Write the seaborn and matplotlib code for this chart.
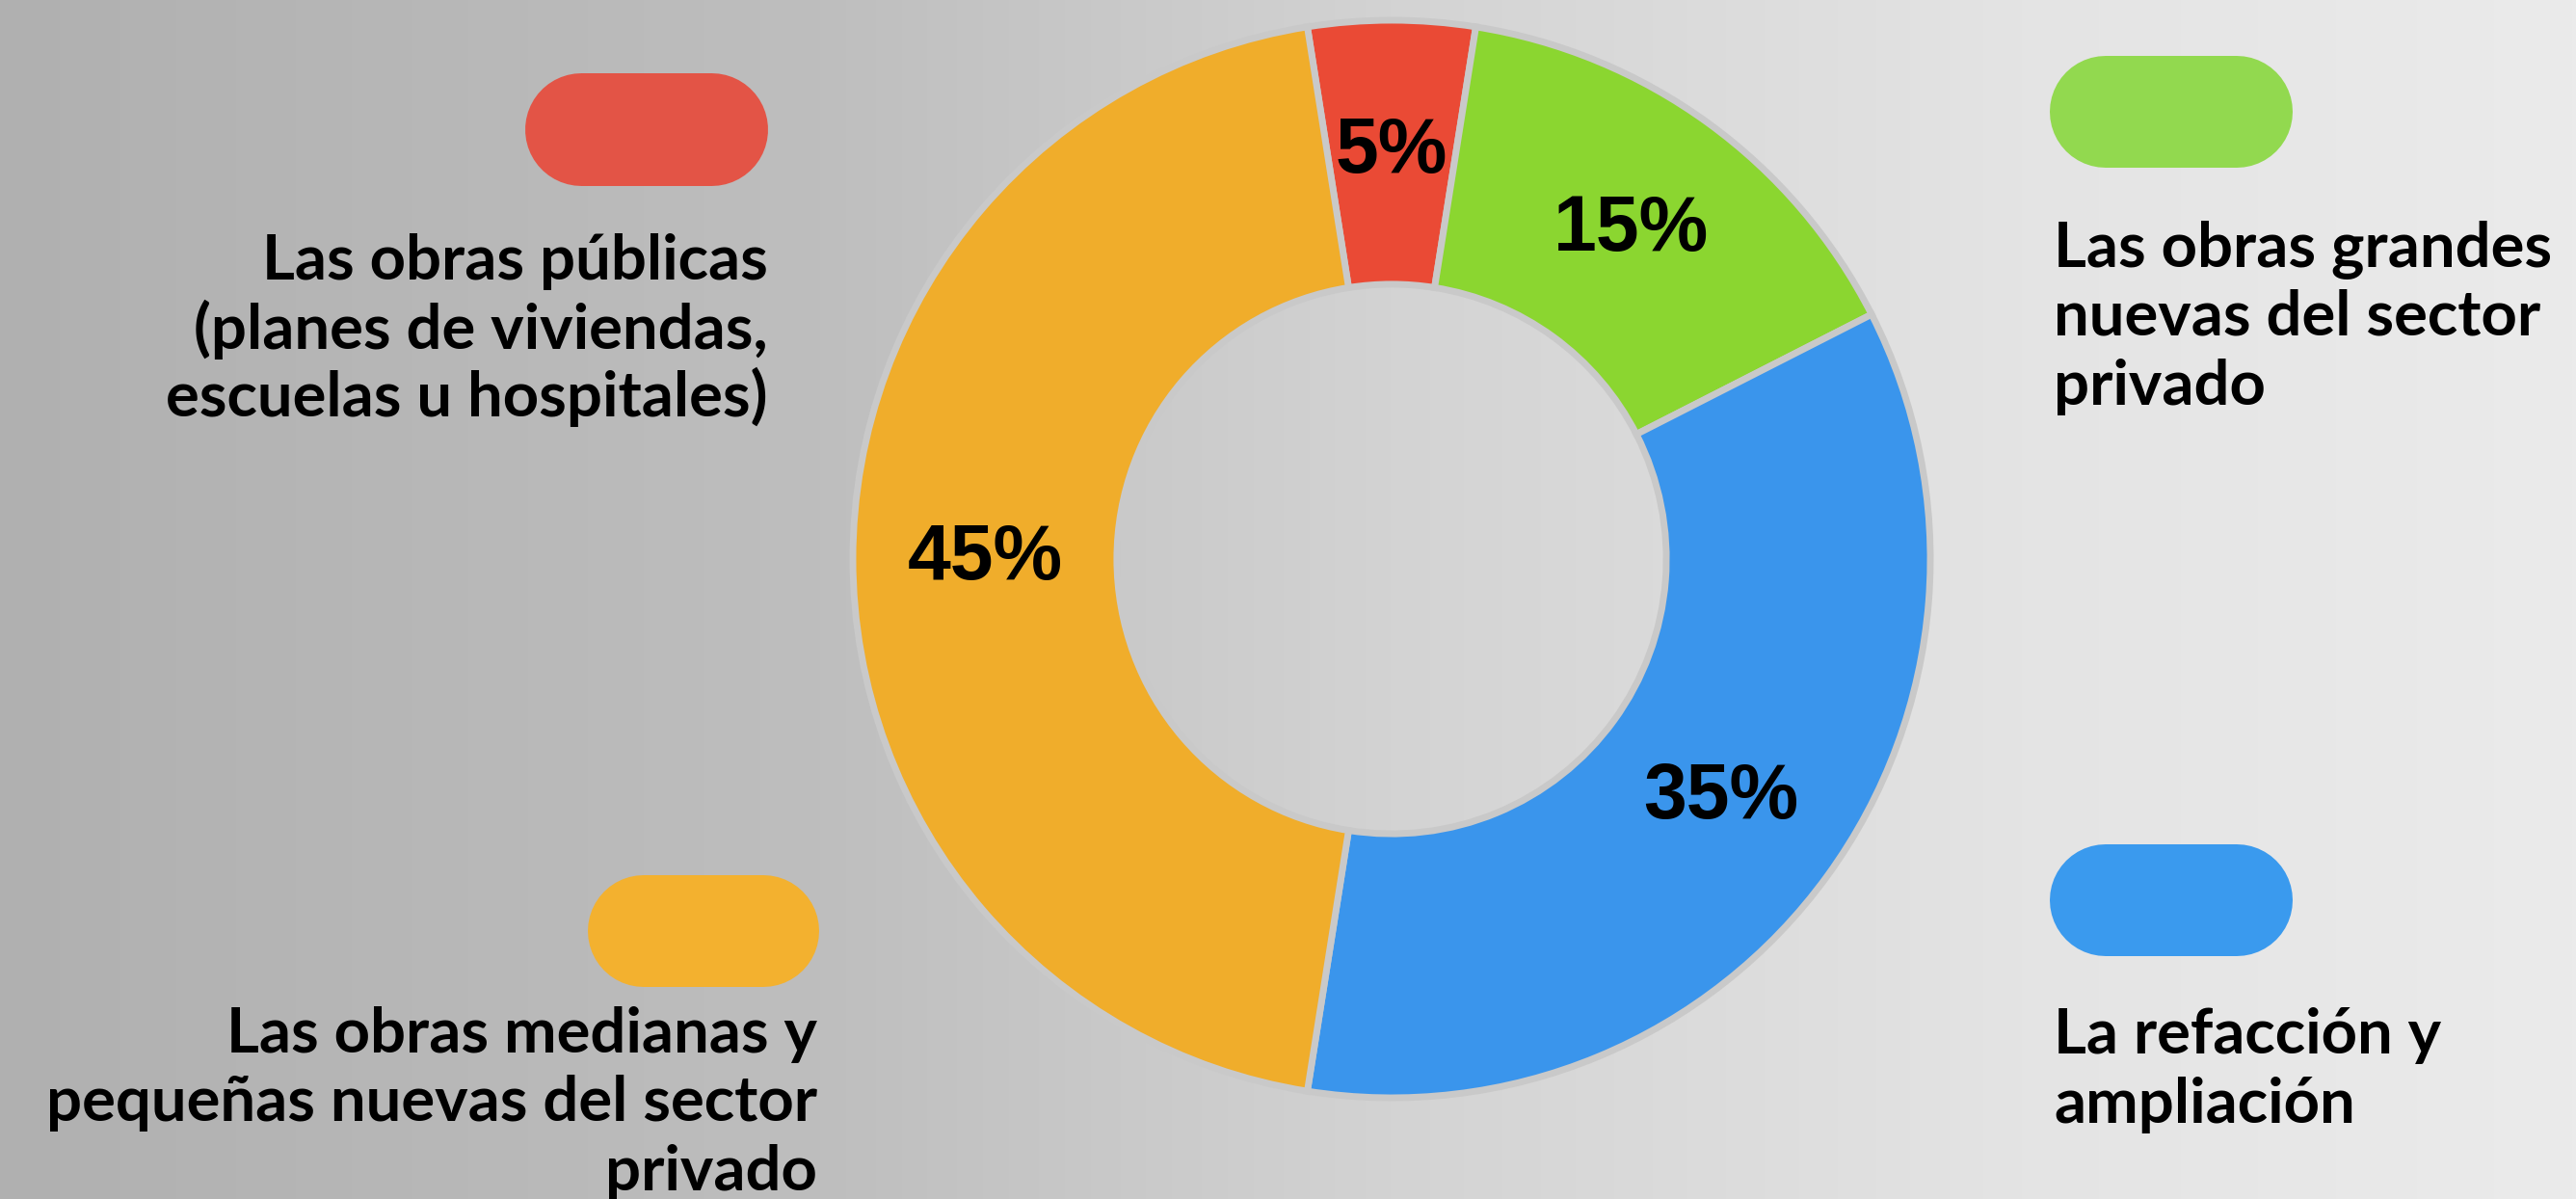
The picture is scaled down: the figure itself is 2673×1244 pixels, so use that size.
import numpy as np
import matplotlib
matplotlib.use("Agg")
import matplotlib.pyplot as plt
import seaborn as sns

# ---- data ----
categories = [
    "Las obras públicas\n(planes de viviendas,\nescuelas u hospitales)",
    "Las obras grandes\nnuevas del sector\nprivado",
    "La refacción y\nampliación",
    "Las obras medianas y\npequeñas nuevas del sector\nprivado",
]
values = [5, 15, 35, 45]
pct_labels = ["5%", "15%", "35%", "45%"]

wedge_colors = ["#EA4A35", "#8BD630", "#3A95EC", "#F0AD2B"]
pill_colors = ["#E35446", "#92D94F", "#3A9AEE", "#F3B12F"]

sns.set_theme(style="white")
plt.rcParams["font.family"] = ["Lato", "DejaVu Sans"]

W, H = 2673, 1244
fig = plt.figure(figsize=(W / 100, H / 100), dpi=100)

# background gradient
bg = fig.add_axes([0, 0, 1, 1])
xs = np.linspace(0, W, 600)
grey = np.interp(xs, [0, 850, 1444, 2100, W], [176, 190, 211, 228, 235]) / 255.0
img = np.stack([grey, grey, grey], axis=-1)[None, :, :].repeat(2, axis=0)
bg.imshow(img, extent=[0, W, H, 0], aspect="auto")
bg.set_xlim(0, W)
bg.set_ylim(H, 0)
bg.axis("off")

# donut
cx, cy, R = 1444, 580, 559
ax = fig.add_axes([(cx - R) / W, (H - cy - R) / H, 2 * R / W, 2 * R / H])
wedges, _ = ax.pie(
    values,
    colors=wedge_colors,
    startangle=90 + values[0] / 100 * 360 / 2,
    counterclock=False,
    radius=1.0,
    wedgeprops=dict(width=0.49, edgecolor="#c9c9c9", linewidth=5),
)
for w, lab in zip(wedges, pct_labels):
    ang = np.deg2rad((w.theta1 + w.theta2) / 2)
    r = 1.0 - 0.49 / 2
    ax.text(r * np.cos(ang), r * np.sin(ang), lab, ha="center", va="center",
            fontsize=58, fontweight="bold", family=["Liberation Sans", "DejaVu Sans"],
            color="black")
ax.set_xlim(-1, 1)
ax.set_ylim(-1, 1)
ax.set_aspect("equal")
ax.axis("off")

# legend pills and texts (figure pixel coordinates)
ov = fig.add_axes([0, 0, 1, 1])
ov.set_xlim(0, W)
ov.set_ylim(H, 0)
ov.axis("off")
ov.patch.set_alpha(0)

pills = {
    0: (545, 75, 252, 117),
    1: (2127, 58, 252, 116),
    2: (2127, 876, 252, 116),
    3: (610, 908, 240, 116),
}
text_pos = {
    0: (797, [290, 362, 432], "right"),
    1: (2131, [277, 347, 420], "left"),
    2: (2131, [1093, 1165], "left"),
    3: (848, [1092, 1163, 1235], "right"),
}
for i in range(4):
    x, y, w, h = pills[i]
    ov.plot([x + h / 2, x + w - h / 2], [y + h / 2, y + h / 2],
            color=pill_colors[i], linewidth=h * 0.72, solid_capstyle="round")
    tx, baselines, ha = text_pos[i]
    for line, by in zip(categories[i].split("\n"), baselines):
        ov.text(tx, by, line, ha=ha, va="baseline", fontsize=47,
                fontweight="bold", color="black")

fig.savefig("out.png", dpi=100)
